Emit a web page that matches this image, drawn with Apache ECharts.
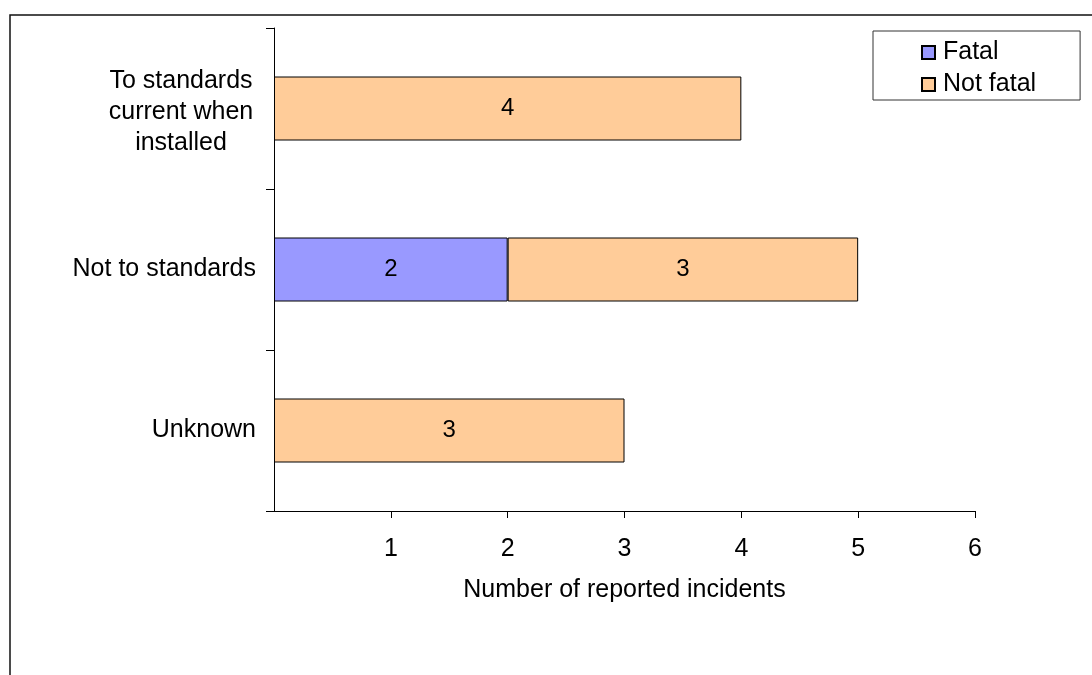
<!DOCTYPE html>
<html>
<head>
<meta charset="utf-8">
<title>Reported incidents by installation standard</title>
<script src="https://cdn.jsdelivr.net/npm/echarts@6/dist/echarts.min.js"></script>
<style>
  html, body { margin: 0; padding: 0; background: #ffffff; }
  #chart { width: 1092px; height: 675px; }
</style>
</head>
<body>
<div id="chart"></div>
<script>
// Installation standard of each site, top to bottom
const categories = ['To standards\ncurrent when\ninstalled', 'Not to standards', 'Unknown'];
// Number of reported incidents per outcome
const fatal = [0, 2, 0];
const notFatal = [4, 3, 3];
const seriesNames = ['Fatal', 'Not fatal'];
const xTicks = [0, 1, 2, 3, 4, 5, 6];

const FONT = "'Liberation Sans', Arial, sans-serif";
const TEXT_SIZE = 25;

const chart = echarts.init(document.getElementById('chart'), null, { renderer: 'canvas' });

// zero counts are left out so no empty segment is drawn
const toBars = arr => arr.map(v => (v === 0 ? '-' : v));

const barLabel = {
  show: true,
  position: 'inside',
  color: '#000',
  fontFamily: FONT,
  fontSize: 24,
  formatter: p => (p.value ? String(p.value) : '')
};

chart.setOption({
  animation: false,
  backgroundColor: '#ffffff',
  textStyle: { fontFamily: FONT },
  graphic: [{
    type: 'rect',
    z: -10,
    shape: { x: 10, y: 15, width: 1200, height: 800 },
    style: { fill: 'none', stroke: '#111', lineWidth: 1.5 }
  }],
  grid: { left: 274, top: 28, right: 117, bottom: 164, containLabel: false },
  legend: {
    data: seriesNames,
    orient: 'vertical',
    left: 873,
    top: 31,
    padding: [9, 44, 3, 48],
    itemGap: 7,
    itemWidth: 13,
    itemHeight: 13,
    borderColor: '#333',
    borderWidth: 1,
    backgroundColor: '#fff',
    icon: 'rect',
    textStyle: { color: '#000', fontFamily: FONT, fontSize: TEXT_SIZE, padding: [0, 0, 0, 3] }
  },
  xAxis: {
    type: 'value',
    min: xTicks[0],
    max: xTicks[xTicks.length - 1],
    interval: 1,
    name: 'Number of reported incidents',
    nameLocation: 'middle',
    nameGap: 67,
    nameTextStyle: { color: '#000', fontFamily: FONT, fontSize: TEXT_SIZE },
    axisLine: { show: true, lineStyle: { color: '#000', width: 1 } },
    axisTick: { show: true, inside: false, length: 7, lineStyle: { color: '#000' } },
    axisLabel: {
      color: '#000', fontFamily: FONT, fontSize: TEXT_SIZE, margin: 26,
      showMinLabel: false,
      formatter: v => (xTicks.includes(v) && v !== 0 ? String(v) : '')
    },
    splitLine: { show: false }
  },
  yAxis: {
    type: 'category',
    data: categories,
    inverse: true,
    axisLine: { show: true, lineStyle: { color: '#000', width: 1 } },
    axisTick: { show: true, inside: false, length: 8, lineStyle: { color: '#000' } },
    axisLabel: {
      color: '#000', fontFamily: FONT, fontSize: TEXT_SIZE, margin: 18,
      formatter: v => (v.indexOf('\n') >= 0 ? '{m|' + v + '}' : v),
      rich: {
        m: { width: 150, align: 'center', fontSize: TEXT_SIZE, lineHeight: 31, padding: [8, 0, 0, 0], color: '#000', fontFamily: FONT }
      }
    },
    splitLine: { show: false }
  },
  series: [
    {
      name: seriesNames[0],
      type: 'bar',
      stack: 'total',
      barWidth: 64,
      data: toBars(fatal),
      itemStyle: { color: '#9999FF', borderColor: '#000', borderWidth: 1 },
      label: barLabel
    },
    {
      name: seriesNames[1],
      type: 'bar',
      stack: 'total',
      barWidth: 64,
      data: toBars(notFatal),
      itemStyle: { color: '#FFCC99', borderColor: '#000', borderWidth: 1 },
      label: barLabel
    }
  ]
});
</script>
</body>
</html>
